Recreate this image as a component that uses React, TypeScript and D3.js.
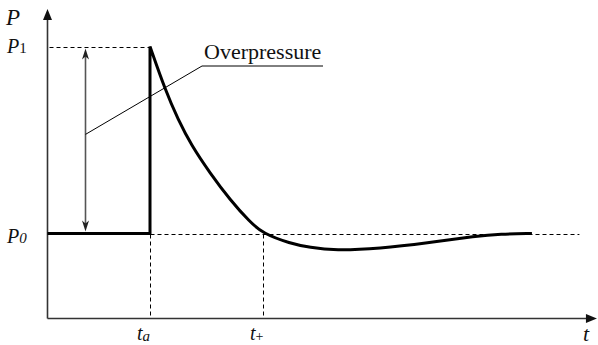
import React from 'react';
import * as d3 from 'd3';

// pulse shape (t in arbitrary units, P relative to P0 = 1)
const pulseT = [2, 2.27, 2.5, 2.73, 3.06, 3.42, 3.77, 4.0, 4.48, 4.83, 5.27, 6.07, 6.9, 7.79, 8.19, 8.76];
const pulseP = [2, 1.767, 1.607, 1.473, 1.324, 1.179, 1.061, 1.0, 0.947, 0.925, 0.909, 0.92, 0.949, 0.987, 0.997, 1.0];

const T_ARRIVAL = 2;   // t_a
const T_PLUS = 4;      // t_+
const P0 = 1;
const P1 = 2;
const T_MIN = 0.18;
const T_MAX = 9.91;
const P_MIN = 0.55;
const P_MAX = 2.2;
const T_DASH_END = 9.6;

const width = 598;
const height = 345;

const x = d3.scaleLinear().domain([0, 10]).range([37, 602]);
const y = d3.scaleLinear().domain([P0, P1]).range([233.5, 46.5]);

const line = d3.line<[number, number]>()
  .x(d => x(d[0]))
  .y(d => y(d[1]))
  .curve(d3.curveBasis);

const font = '"Liberation Serif", "DejaVu Serif", serif';

const App = () => {
  const pts: [number, number][] = pulseT.map((t, i) => [t, pulseP[i]]);
  const crisp = (v: number) => Math.round(v) + 0.5;
  const x0 = crisp(x(T_MIN));
  const yb = crisp(y(P_MIN));
  const arrowX = crisp(x(0.85));
  const yTop = y(P_MAX);
  const xEnd = x(T_MAX);
  const ta = crisp(x(T_ARRIVAL));
  const tp = crisp(x(T_PLUS));
  const yP0 = crisp(y(P0));
  const yP1 = crisp(y(P1));
  const curve = (line(pts) || '').replace(/^M[^LC]+/, '');
  const txt = { fontFamily: font, fill: '#111' };

  return (
    <svg width={width} height={height} style={{ position: 'absolute', left: 0, top: 0, background: '#fff' }}>
      {/* axes */}
      <line x1={x0} y1={yb} x2={x0} y2={yTop + 6} stroke="#333" strokeWidth={1.6} />
      <path d={`M${x0},${yTop} L${x0 - 4.5},${yTop + 11} L${x0 + 4.5},${yTop + 11} Z`} fill="#111" />
      <line x1={x0} y1={yb} x2={xEnd - 6} y2={yb} stroke="#333" strokeWidth={1.6} />
      <path d={`M${xEnd},${yb} L${xEnd - 11},${yb - 4.5} L${xEnd - 11},${yb + 4.5} Z`} fill="#111" />

      {/* dashed guides */}
      <g stroke="#000" strokeWidth={1} strokeDasharray="4,3" fill="none">
        <line x1={x0 + 2} y1={yP1} x2={ta} y2={yP1} />
        <line x1={ta} y1={yP0} x2={x(T_DASH_END)} y2={yP0} />
        <line x1={ta} y1={yP0} x2={ta} y2={yb} />
        <line x1={tp} y1={yP0} x2={tp} y2={yb} />
      </g>

      {/* overpressure double arrow */}
      <line x1={arrowX} y1={yP0 - 8} x2={arrowX} y2={yP1 + 8} stroke="#555" strokeWidth={1.6} />
      <path d={`M${arrowX},${yP1 + 1} L${arrowX - 3.5},${yP1 + 12} L${arrowX},${yP1 + 9} L${arrowX + 3.5},${yP1 + 12} Z`} fill="#222" />
      <path d={`M${arrowX},${yP0 - 3} L${arrowX - 3.5},${yP0 - 14} L${arrowX},${yP0 - 11} L${arrowX + 3.5},${yP0 - 14} Z`} fill="#222" />

      {/* leader line + label */}
      <polyline points={`${arrowX},${y(1.53)} 202,66 323,66`} fill="none" stroke="#000" strokeWidth={1} />
      <text x={204} y={59} fontSize={22} style={txt}>Overpressure</text>

      {/* pressure history */}
      <path
        d={`M${x0},${y(P0)} L${x(T_ARRIVAL)},${y(P0)} L${x(T_ARRIVAL)},${y(P1)} ` + curve}
        fill="none" stroke="#000" strokeWidth={3} strokeLinejoin="miter" />

      {/* labels */}
      <text x={6} y={25} fontSize={23} fontStyle="italic" style={txt}>P</text>
      <text x={7} y={53} fontSize={20} style={txt}>
        <tspan fontStyle="italic">P</tspan><tspan fontSize={15}>1</tspan>
      </text>
      <text x={7} y={243} fontSize={20} style={txt}>
        <tspan fontStyle="italic">P</tspan><tspan fontSize={15} fontStyle="italic">0</tspan>
      </text>
      <text x={137} y={340} fontSize={20} style={txt}>
        <tspan fontStyle="italic">t</tspan><tspan fontSize={15} fontStyle="italic" dy={1}>a</tspan>
      </text>
      <text x={250} y={340} fontSize={20} style={txt}>
        <tspan fontStyle="italic">t</tspan><tspan fontSize={14} dy={1}>+</tspan>
      </text>
      <text x={583} y={341} fontSize={22} fontStyle="italic" style={txt}>t</text>
    </svg>
  );
};

export default App;
